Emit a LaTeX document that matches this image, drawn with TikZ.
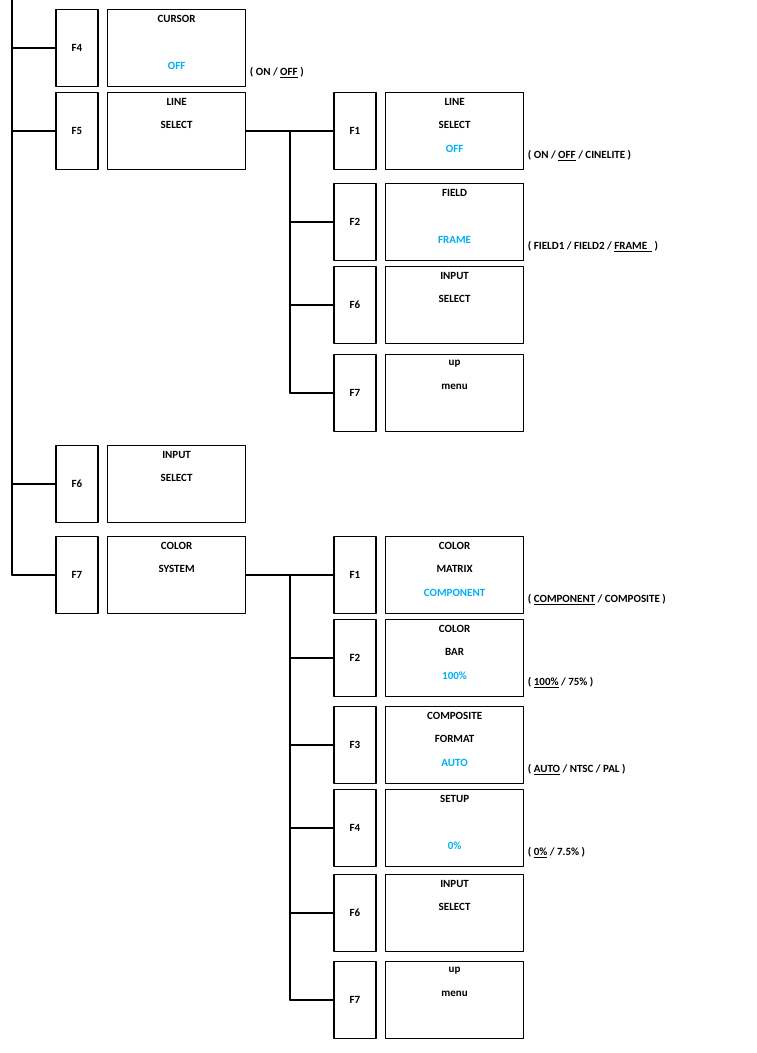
\documentclass[tikz,border=0pt]{standalone}
\usepackage{fontspec}
\setmainfont{Carlito}
\usetikzlibrary{positioning}
\definecolor{valcyan}{RGB}{0,176,240}
\tikzset{
  fkey/.style={draw,line width=1.6pt,minimum width=42pt,minimum height=77pt,inner sep=0pt,font=\bfseries\fontsize{11}{12}\selectfont},
  mbox/.style={draw,line width=1.6pt,minimum width=138pt,minimum height=77pt,inner sep=0pt},
  mtext/.style={anchor=north,align=center,font=\bfseries\fontsize{11}{23.5}\selectfont},
  note/.style={anchor=west,font=\bfseries\fontsize{11}{12}\selectfont},
  conn/.style={line width=1.4pt}
}
% key, box, x of key, y centre, key label, text lines
\newcommand\mitem[6]{%
  \node[fkey] (#1) at (#3,#4) {#5};
  \node[mbox,right=8pt of #1] (#2) {};
  \node[mtext,below=3pt of #2.north] (#2t) {#6};
}
\begin{document}
\begin{tikzpicture}[x=1pt,y=-1pt,line cap=round,line join=round]
\useasboundingbox (0,0) rectangle (756,1053);
\coordinate (spine) at (12,0);
\coordinate (spineend) at (12,575);
\coordinate (subA) at (290,131);
\coordinate (subB) at (290,575);
%
\mitem{k4}{cursor}{77}{48}{F4}{CURSOR\\ \\ \textcolor{valcyan}{OFF}}
\mitem{k5}{lsel}{77}{131}{F5}{LINE\\SELECT}
\mitem{k6}{insel}{77}{484}{F6}{INPUT\\SELECT}
\mitem{k7}{csys}{77}{575}{F7}{COLOR\\SYSTEM}
%
\mitem{la}{lineon}{355}{131}{F1}{LINE\\SELECT\\ \textcolor{valcyan}{OFF}}
\mitem{lb}{field}{355}{222}{F2}{FIELD\\ \\ \textcolor{valcyan}{FRAME}}
\mitem{lc}{linein}{355}{305}{F6}{INPUT\\SELECT}
\mitem{ld}{lineup}{355}{393}{F7}{up\\menu}
%
\mitem{ca}{cmat}{355}{575}{F1}{COLOR\\MATRIX\\ \textcolor{valcyan}{COMPONENT}}
\mitem{cb}{cbar}{355}{658}{F2}{COLOR\\BAR\\ \textcolor{valcyan}{100\%}}
\mitem{cc}{cfmt}{355}{745}{F3}{COMPOSITE\\FORMAT\\ \textcolor{valcyan}{AUTO}}
\mitem{cd}{csetup}{355}{828}{F4}{SETUP\\ \\ \textcolor{valcyan}{0\%}}
\mitem{ce}{cin}{355}{913}{F6}{INPUT\\SELECT}
\mitem{cf}{cup}{355}{1000}{F7}{up\\menu}
%
\draw[conn] (spine) -- (spineend);
\foreach \k in {k4,k5,k6,k7}
  \draw[conn] (spine |- \k.west) -- (\k.west);
\draw[conn] (lsel.east) -- (subA) -- (subA |- ld.west);
\foreach \k in {la,lb,lc,ld}
  \draw[conn] (subA |- \k.west) -- (\k.west);
\draw[conn] (csys.east) -- (subB) -- (subB |- cf.west);
\foreach \k in {ca,cb,cc,cd,ce,cf}
  \draw[conn] (subB |- \k.west) -- (\k.west);
%
\node[note] (n1) at ([yshift=15pt]cursor.south east) {( ON / \underline{OFF} )};
\node[note] (n2) at ([yshift=15pt]lineon.south east) {( ON / \underline{OFF} / CINELITE )};
\node[note] (n3) at ([yshift=15pt]field.south east) {( FIELD1 / FIELD2 / \underline{FRAME\ \ } )};
\node[note] (n4) at ([yshift=15pt]cmat.south east) {( \underline{COMPONENT} / COMPOSITE )};
\node[note] (n5) at ([yshift=15pt]cbar.south east) {( \underline{100\%} / 75\% )};
\node[note] (n6) at ([yshift=15pt]cfmt.south east) {( \underline{AUTO} / NTSC / PAL )};
\node[note] (n7) at ([yshift=15pt]csetup.south east) {( \underline{0\%} / 7.5\% )};
\end{tikzpicture}
\end{document}
